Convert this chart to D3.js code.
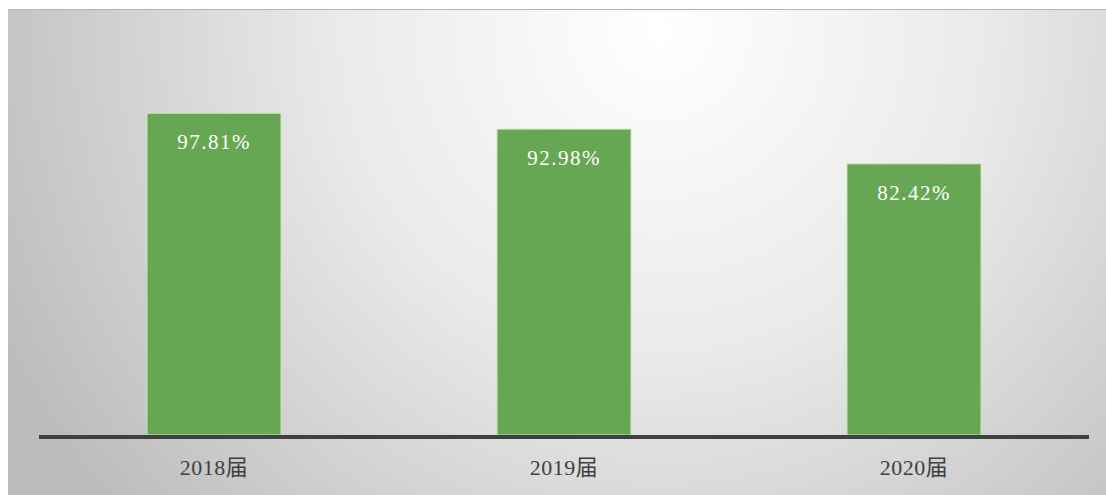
<!DOCTYPE html>
<html>
<head>
<meta charset="utf-8">
<script src="https://cdn.jsdelivr.net/npm/d3@7"></script>
<style>
  html, body { margin: 0; padding: 0; background: #fff; }
  svg { display: block; }
</style>
</head>
<body>
<svg class="chart-bar" width="1106" height="495"></svg>
<script>
// 値はグラフから読み取り
var categories = ["2018届", "2019届", "2020届"];
var values = [97.81, 92.98, 82.42];
var valueLabels = ["97.81%", "92.98%", "82.42%"];

var W = 1106, H = 495;
var plot = { left: 39, right: 1089, base: 435, top100: 106 };

var svg = d3.select("svg.chart-bar");

/* 背景 (放射グラデーション) */
var defs = svg.append("defs");
var grad = defs.append("radialGradient")
    .attr("id", "bg")
    .attr("gradientUnits", "userSpaceOnUse")
    .attr("cx", 660).attr("cy", 30).attr("r", 720);
grad.append("stop").attr("offset", "0%").attr("stop-color", "#ffffff");
grad.append("stop").attr("offset", "45%").attr("stop-color", "#eaeaea");
grad.append("stop").attr("offset", "100%").attr("stop-color", "#bdbdbd");

svg.append("rect")
    .attr("x", 8).attr("y", 9)
    .attr("width", W - 8).attr("height", H - 9)
    .attr("fill", "url(#bg)");
svg.append("line")
    .attr("x1", 8).attr("x2", W)
    .attr("y1", 9.5).attr("y2", 9.5)
    .attr("stroke", "#b4b4b4").attr("stroke-width", 1);

/* scale */
var x = d3.scaleBand()
    .domain(categories)
    .range([plot.left, plot.right])
    .paddingInner(0.617)
    .paddingOuter(0.3085);
var y = d3.scaleLinear()
    .domain([0, 100])
    .range([plot.base, plot.top100]);

/* bars */
svg.selectAll("rect.bar")
    .data(values)
    .enter()
    .append("rect")
    .attr("class", "bar")
    .attr("x", function (d, i) { return x(categories[i]); })
    .attr("y", function (d) { return y(d); })
    .attr("width", x.bandwidth())
    .attr("height", function (d) { return y(0) - y(d); })
    .attr("fill", "#67a753")
    .attr("stroke", "#cfe6c4")
    .attr("stroke-width", 1);

/* 値ラベル */
svg.selectAll("text.val")
    .data(values)
    .enter()
    .append("text")
    .attr("class", "val")
    .attr("x", function (d, i) { return x(categories[i]) + x.bandwidth() / 2; })
    .attr("y", function (d) { return y(d) + 36; })
    .attr("text-anchor", "middle")
    .attr("font-family", "'Liberation Serif', 'DejaVu Serif', serif")
    .attr("font-size", 21)
    .attr("fill", "#ffffff")
    .attr("letter-spacing", 1.5)
    .text(function (d, i) { return valueLabels[i]; });

/* x 軸 */
var axis = svg.append("g")
    .attr("transform", "translate(0," + (plot.base + 2) + ")")
    .call(d3.axisBottom(x).tickSize(0).tickPadding(22));
axis.select(".domain")
    .attr("d", "M" + plot.left + ",0H" + plot.right)
    .attr("stroke", "#404040")
    .attr("stroke-width", 4);
axis.selectAll("text")
    .attr("font-family", "'Liberation Serif', 'Noto Sans CJK SC', serif")
    .attr("font-size", 22)
    .attr("letter-spacing", 0.5)
    .attr("fill", "#404040");
</script>
</body>
</html>
